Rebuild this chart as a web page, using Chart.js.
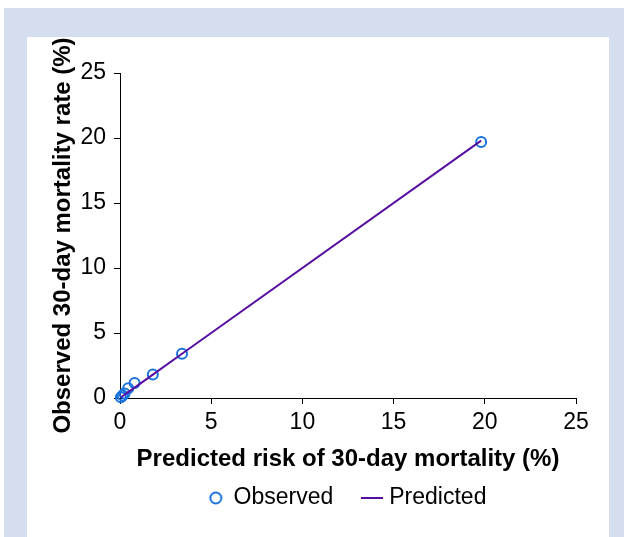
<!DOCTYPE html>
<html lang="en">
<head>
    <meta charset="UTF-8">
    <title>Observed vs predicted 30-day mortality</title>
    <script src="https://cdn.jsdelivr.net/npm/chart.js"></script>
    <style>
        body { margin: 0; background: #fff; }
        #frame { position: absolute; left: 4px; top: 8px; width: 620px; height: 529px; background: #d5deef; }
        #panel { position: absolute; left: 27px; top: 37px; width: 582px; height: 500px; background: #fff; }
        #myChart { position: absolute; left: 0; top: 0; }
    </style>
</head>
<body>
    <div id="frame"></div>
    <div id="panel"></div>
    <canvas id="myChart" width="624" height="537"></canvas>

    <script>
        // predicted risk (x) and observed rate (y), both in %
        const predictedRisk = [0.05, 0.15, 0.25, 0.45, 0.8, 1.8, 3.4, 19.8];
        const observedRate = [0.05, 0.2, 0.35, 0.75, 1.15, 1.8, 3.4, 19.7];
        const axisTicks = [0, 5, 10, 15, 20, 25];

        const blue = '#1873dd';
        const purple = '#560fa0';
        const fontFamily = "'Liberation Sans', Arial, sans-serif";

        // small canvases used as legend markers
        function ringMark() {
            const c = document.createElement('canvas');
            c.width = 16; c.height = 16;
            const g = c.getContext('2d');
            g.strokeStyle = blue;
            g.lineWidth = 2;
            g.beginPath();
            g.arc(8, 8, 5.5, 0, Math.PI * 2);
            g.stroke();
            return c;
        }
        function lineMark() {
            const c = document.createElement('canvas');
            c.width = 22; c.height = 4;
            const g = c.getContext('2d');
            g.fillStyle = purple;
            g.fillRect(0, 1, 22, 2);
            return c;
        }
        const legendMarks = [ringMark(), lineMark()];

        const observedPts = predictedRisk.map((x, i) => ({ x: x, y: observedRate[i] }));
        const predictedPts = predictedRisk.map(x => ({ x: x, y: x }));

        const ctx = document.getElementById('myChart').getContext('2d');

        new Chart(ctx, {
            type: 'scatter',
            data: {
                datasets: [
                    {
                        label: 'Observed',
                        data: observedPts,
                        borderColor: blue,
                        backgroundColor: 'rgba(0,0,0,0)',
                        pointRadius: 5,
                        borderWidth: 2,
                        order: 1,
                        clip: false
                    },
                    {
                        label: 'Predicted',
                        data: predictedPts,
                        showLine: true,
                        borderColor: purple,
                        backgroundColor: purple,
                        borderWidth: 2,
                        pointRadius: 0,
                        order: 0,
                        clip: false
                    }
                ]
            },
            options: {
                responsive: false,
                animation: false,
                layout: { padding: { left: 0, top: 73, right: 48, bottom: 17.5 } },
                scales: {
                    x: {
                        type: 'linear',
                        min: 0,
                        max: 25,
                        afterBuildTicks: s => { s.ticks = axisTicks.map(v => ({ value: v })); },
                        afterFit: s => { s.height = 56.5; },
                        grid: { drawOnChartArea: false, drawTicks: true, tickLength: 6, color: '#000' },
                        border: { display: true, color: '#000', width: 1 },
                        ticks: { color: '#000', padding: 5, font: { family: fontFamily, size: 23 } },
                        title: {
                            display: true,
                            text: 'Predicted risk of 30-day mortality (%)',
                            color: '#000',
                            padding: { top: 0, bottom: -19 },
                            font: { family: fontFamily, size: 24, weight: 'bold' }
                        }
                    },
                    y: {
                        type: 'linear',
                        min: 0,
                        max: 25,
                        afterBuildTicks: s => { s.ticks = axisTicks.map(v => ({ value: v })); },
                        afterFit: s => { s.width = 120; },
                        grid: { drawOnChartArea: false, drawTicks: true, tickLength: 6, color: '#000' },
                        border: { display: true, color: '#000', width: 1 },
                        ticks: { color: '#000', padding: 8, font: { family: fontFamily, size: 23 } },
                        title: {
                            display: true,
                            text: 'Observed 30-day mortality rate (%)',
                            color: '#000',
                            padding: { top: 48.6, bottom: 0 },
                            font: { family: fontFamily, size: 24, weight: 'bold' }
                        }
                    }
                },
                plugins: {
                    tooltip: { enabled: false },
                    legend: {
                        position: 'bottom',
                        fullSize: false,
                        labels: {
                            usePointStyle: true,
                            pointStyleWidth: 12.5,
                            padding: 32,
                            color: '#000',
                            font: { family: fontFamily, size: 23 },
                            sort: (a, b) => a.datasetIndex - b.datasetIndex,
                            generateLabels: chart => {
                                const items = Chart.defaults.plugins.legend.labels.generateLabels(chart);
                                items.forEach(it => { it.pointStyle = legendMarks[it.datasetIndex]; });
                                return items;
                            }
                        }
                    }
                }
            }
        });
    </script>
</body>
</html>
